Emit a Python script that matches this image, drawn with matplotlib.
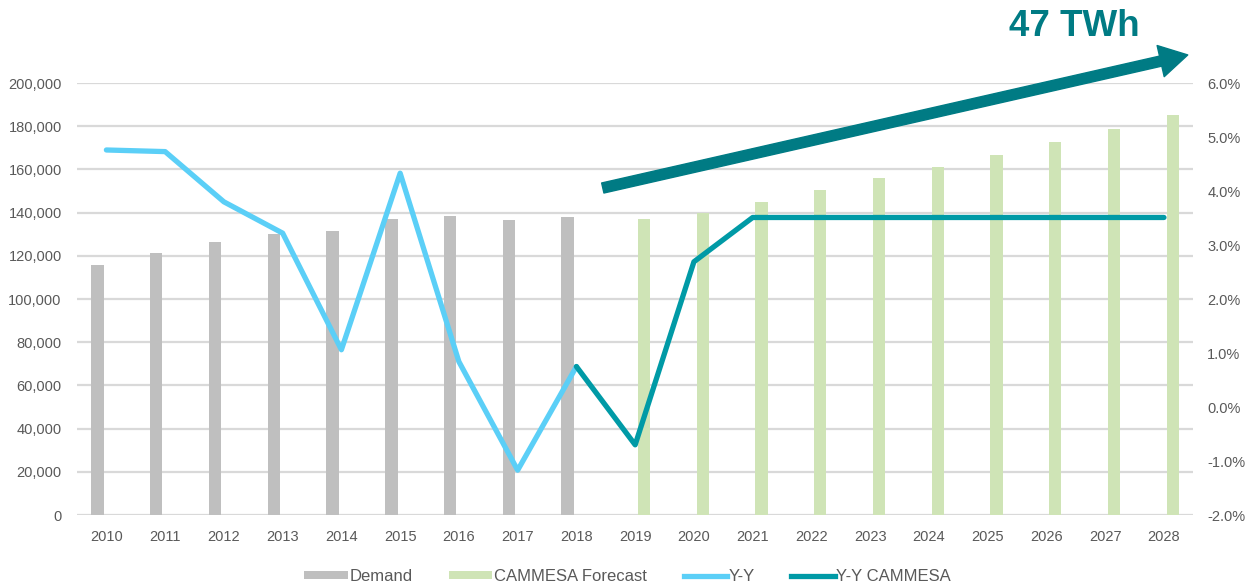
import matplotlib
matplotlib.use("Agg")
import matplotlib.pyplot as plt
import numpy as np
from matplotlib.patches import Patch
from matplotlib.lines import Line2D
from matplotlib.ticker import FuncFormatter

years = [str(y) for y in range(2010, 2029)]

# GWh
demand = [115900, 121300, 126200, 129900, 131500, 136900, 138300, 136400, 137800,
          np.nan, np.nan, np.nan, np.nan, np.nan, np.nan, np.nan, np.nan, np.nan, np.nan]
forecast = [np.nan] * 9 + [136900, 140000, 145100, 150500, 155900, 161200,
                           166600, 172500, 178800, 185200]

# year-on-year growth, %
yy = [4.76, 4.73, 3.80, 3.22, 1.06, 4.33, 0.84, -1.17, 0.75] + [np.nan] * 10
yy_cammesa = [np.nan] * 8 + [0.75, -0.70, 2.69, 3.51, 3.51, 3.51, 3.51, 3.51, 3.51, 3.51, 3.51]

callout = "47 TWh"

GRAY = "#bfbfbf"
GREEN = "#cfe4b6"
LIGHTBLUE = "#5bcff7"
TEAL = "#009aa6"
DARKTEAL = "#007b84"
TICK = "#595959"

plt.rcParams["font.family"] = ["Liberation Sans", "DejaVu Sans"]

fig = plt.figure(figsize=(12.48, 5.88), dpi=100)
ax = fig.add_axes([0.0617, 0.1241, 0.8945, 0.7347])

x = np.arange(len(years))
w = 0.21
ax.bar(x - 0.15, demand, w, color=GRAY, zorder=2)
ax.bar(x + 0.15, forecast, w, color=GREEN, zorder=2)

ax.set_xlim(-0.5, len(years) - 0.5)
ax.set_ylim(0, 200000)
ax.set_yticks(np.arange(0, 200001, 20000))
ax.yaxis.set_major_formatter(FuncFormatter(lambda v, p: f"{int(v):,}"))
ax.set_xticks(x)
ax.set_xticklabels(years)
ax.grid(axis="y", color="#d9d9d9", lw=1.6, zorder=0)
ax.set_axisbelow(True)
for s in ax.spines.values():
    s.set_visible(False)
ax.tick_params(axis="y", length=0, pad=11, labelsize=10.5, labelcolor=TICK)
ax.tick_params(axis="x", length=0, pad=11, labelsize=10.5, labelcolor=TICK)

ax2 = ax.twinx()
ax2.plot(x, yy, color=LIGHTBLUE, lw=3.8, solid_capstyle="round", solid_joinstyle="round", zorder=3)
ax2.plot(x, yy_cammesa, color=TEAL, lw=3.8, solid_capstyle="round", solid_joinstyle="round", zorder=4)
ax2.set_ylim(-2, 6)
ax2.set_yticks(np.arange(-2, 6.01, 1))
ax2.yaxis.set_major_formatter(FuncFormatter(lambda v, p: f"{v:.1f}%"))
for s in ax2.spines.values():
    s.set_visible(False)
ax2.tick_params(axis="y", length=0, pad=10, labelsize=10.5, labelcolor=TICK)

# growth arrow (axes fraction coordinates)
ax2.annotate(
    "", xy=(0.995, 1.065), xytext=(0.471, 0.757),
    xycoords="axes fraction", textcoords="axes fraction",
    arrowprops=dict(arrowstyle="simple,head_length=1.0,head_width=1.15,tail_width=0.37",
                    mutation_scale=20, color=DARKTEAL, shrinkA=0, shrinkB=0),
    annotation_clip=False, zorder=6,
)
fig.text(0.861, 0.955, callout, color=DARKTEAL, fontsize=26.5, fontweight="bold",
         family=["Liberation Sans", "DejaVu Sans"],
         ha="center", va="center")

handles = [
    Patch(facecolor=GRAY, edgecolor="none", label="Demand"),
    Patch(facecolor=GREEN, edgecolor="none", label="CAMMESA Forecast"),
    Line2D([0], [0], color=LIGHTBLUE, lw=3.8, label="Y-Y"),
    Line2D([0], [0], color=TEAL, lw=3.8, label="Y-Y CAMMESA"),
]
leg = fig.legend(handles=handles, loc="center", bbox_to_anchor=(0.503, 0.02), ncol=4,
                 frameon=False, fontsize=12, handlelength=2.6, handleheight=0.4,
                 handletextpad=0.1, columnspacing=2.2)
for t in leg.get_texts():
    t.set_color(TICK)

fig.savefig("out.png", dpi=100)
